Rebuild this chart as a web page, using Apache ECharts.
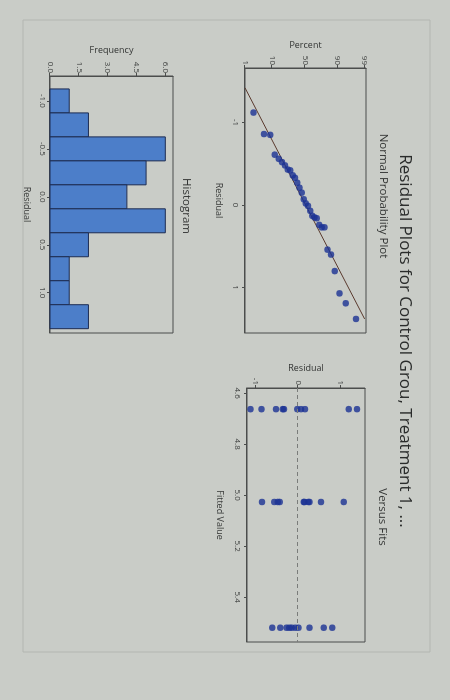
<!DOCTYPE html>
<html><head><meta charset="utf-8">
<script src="https://cdn.jsdelivr.net/npm/echarts@6/dist/echarts.min.js"></script>
<style>
html,body{margin:0;padding:0;width:450px;height:700px;overflow:hidden;background:#c9ccc7;}
#chart{position:absolute;left:0;top:0;width:700px;height:450px;transform-origin:0 0;transform:translate(450px,0) rotate(90deg);}
</style></head><body><div id="chart"></div>
<script>
// ---------- data ----------
const titleText = 'Residual Plots for Control Grou, Treatment 1, ...';
const panelTitles = ['Normal Probability Plot', 'Versus Fits', 'Histogram'];

const fittedValues = [4.663, 5.027, 5.52];
const residualsGroup1 = [-1.12, -0.86, -0.52, -0.36, -0.33, -0.02, 0.07, 0.16, 1.19, 1.38];
const residualsGroup2 = [-0.85, -0.56, -0.48, -0.43, 0.13, 0.15, 0.24, 0.27, 0.54, 1.07];
const residualsGroup3 = [-0.61, -0.42, -0.27, -0.21, -0.15, -0.07, 0.01, 0.27, 0.60, 0.80];

const nppResiduals = [-1.12, -0.86, -0.85, -0.61, -0.56, -0.52, -0.48, -0.43, -0.42, -0.36,
  -0.33, -0.27, -0.21, -0.15, -0.07, -0.02, 0.01, 0.07, 0.13, 0.15,
  0.16, 0.24, 0.27, 0.27, 0.54, 0.60, 0.80, 1.07, 1.19, 1.38];
const nppPercents = [2.3, 5.6, 8.9, 12.2, 15.5, 18.8, 22.0, 25.3, 28.6, 31.9,
  35.2, 38.5, 41.8, 45.1, 48.4, 51.6, 54.9, 58.2, 61.5, 64.8,
  68.0, 71.3, 74.6, 77.9, 81.2, 84.5, 87.8, 91.1, 94.4, 97.7];
const fitLineResiduals = [-1.42, 1.38];
const fitLinePercents = [1, 99];

const histBinCenters = [-1.0, -0.75, -0.5, -0.25, 0.0, 0.25, 0.5, 0.75, 1.0, 1.25];
const histCounts = [1, 2, 6, 5, 4, 6, 2, 1, 1, 2];
const histBinWidth = 0.25;

const percentTicks = [1, 10, 50, 90, 99];
const nppResidualTicks = [-1, 0, 1];
const histResidualTicks = [-1.0, -0.5, 0.0, 0.5, 1.0];
const frequencyTicks = [0, 1.5, 3.0, 4.5, 6.0];
const fittedTicks = [4.6, 4.8, 5.0, 5.2, 5.4];
const fitsResidualTicks = [-1, 0, 1];

// ---------- normal-probability scale transform ----------
function probit(p){
  const a=[-3.969683028665376e+01,2.209460984245205e+02,-2.759285104469687e+02,1.383577518672690e+02,-3.066479806614716e+01,2.506628277459239e+00];
  const b=[-5.447609879822406e+01,1.615858368580409e+02,-1.556989798598866e+02,6.680131188771972e+01,-1.328068155288572e+01];
  const c=[-7.784894002430293e-03,-3.223964580411365e-01,-2.400758277161838e+00,-2.549732539343734e+00,4.374664141464968e+00,2.938163982698783e+00];
  const d=[7.784695709041462e-03,3.224671290700398e-01,2.445134137142996e+00,3.754408661907416e+00];
  const pl=0.02425, ph=1-pl; let q,r;
  if(p<pl){q=Math.sqrt(-2*Math.log(p));return (((((c[0]*q+c[1])*q+c[2])*q+c[3])*q+c[4])*q+c[5])/((((d[0]*q+d[1])*q+d[2])*q+d[3])*q+1);}
  if(p<=ph){q=p-0.5;r=q*q;return (((((a[0]*r+a[1])*r+a[2])*r+a[3])*r+a[4])*r+a[5])*q/(((((b[0]*r+b[1])*r+b[2])*r+b[3])*r+b[4])*r+1);}
  q=Math.sqrt(-2*Math.log(1-p));return -(((((c[0]*q+c[1])*q+c[2])*q+c[3])*q+c[4])*q+c[5])/((((d[0]*q+d[1])*q+d[2])*q+d[3])*q+1);
}
const z = p => probit(p/100);
const percentZ = percentTicks.map(z);

// ---------- styles ----------
const FONT = 'Open Sans';
const axisColor = '#4b4d4c';
const textColor = '#343635';
const pointColor = '#1b3293';
function axisBase(extra){
  return Object.assign({
    type:'value',
    axisLine:{show:true,onZero:false,lineStyle:{color:axisColor,width:1}},
    axisTick:{show:true,length:3,lineStyle:{color:axisColor}},
    splitLine:{show:false},
    nameLocation:'middle',
    nameTextStyle:{fontFamily:FONT,fontSize:9,color:textColor},
  }, extra);
}
function labelStyle(values, fmt, margin){
  return {fontFamily:FONT,fontSize:8,color:'#3d3f3e',margin:margin,customValues:values,formatter:fmt};
}

const chart = echarts.init(document.getElementById('chart'), null, {renderer:'canvas', width:700, height:450});

const option = {
  backgroundColor:'#c9ccc7',
  animation:false,
  grid:[
    {left:68, top:84, width:265, height:121, show:true, borderColor:axisColor, borderWidth:1, containLabel:false},
    {left:76, top:277, width:257, height:123, show:true, borderColor:axisColor, borderWidth:1, containLabel:false},
    {left:388, top:85, width:254, height:118, show:true, borderColor:axisColor, borderWidth:1, containLabel:false}
  ],
  xAxis:[
    axisBase({gridIndex:0, min:-1.66, max:1.55, name:'Residual', nameGap:22,
      axisTick:{show:true,length:3,customValues:nppResidualTicks,lineStyle:{color:axisColor}},
      axisLabel:labelStyle(nppResidualTicks, v=>String(v), 6)}),
    axisBase({gridIndex:1, min:-1.26, max:1.42, name:'Residual', nameGap:19,
      axisTick:{show:true,length:3,customValues:histResidualTicks,lineStyle:{color:axisColor}},
      axisLabel:labelStyle(histResidualTicks, v=>v.toFixed(1), 4)}),
    axisBase({gridIndex:2, min:4.58, max:5.576, name:'Fitted Value', nameGap:23,
      axisTick:{show:true,length:3,customValues:fittedTicks,lineStyle:{color:axisColor}},
      axisLabel:labelStyle(fittedTicks, v=>v.toFixed(1), 6)})
  ],
  yAxis:[
    axisBase({gridIndex:0, min:percentZ[0], max:2.38, name:'Percent', nameGap:18,
      axisTick:{show:true,length:3,customValues:percentZ,lineStyle:{color:axisColor}},
      axisLabel:labelStyle(percentZ, v=>{let best=0;percentZ.forEach((t,i)=>{if(Math.abs(t-v)<Math.abs(percentZ[best]-v))best=i;});return String(percentTicks[best]);}, 3)}),
    axisBase({gridIndex:1, min:0, max:6.4, name:'Frequency', nameGap:21,
      axisTick:{show:true,length:3,customValues:frequencyTicks,lineStyle:{color:axisColor}},
      axisLabel:labelStyle(frequencyTicks, v=>v.toFixed(1), 3)}),
    axisBase({gridIndex:2, min:-1.2, max:1.57, name:'Residual', nameGap:15,
      axisTick:{show:true,length:3,customValues:fitsResidualTicks,lineStyle:{color:axisColor}},
      axisLabel:labelStyle(fitsResidualTicks, v=>String(v), 3)})
  ],
  series:[
    {type:'line', xAxisIndex:0, yAxisIndex:0, symbol:'none', silent:true,
      lineStyle:{color:'#5a3a2e', width:1},
      data:fitLineResiduals.map((r,i)=>[r, z(fitLinePercents[i])]), z:3},
    {type:'scatter', xAxisIndex:0, yAxisIndex:0, symbolSize:6.5,
      itemStyle:{color:pointColor},
      data:nppResiduals.map((r,i)=>[r, z(nppPercents[i])]), z:4},
    {type:'custom', xAxisIndex:1, yAxisIndex:1,
      data:histBinCenters.map((c,i)=>[c-histBinWidth/2, c+histBinWidth/2, histCounts[i]]),
      renderItem:function(params, api){
        const p0 = api.coord([api.value(0), 0]);
        const p1 = api.coord([api.value(1), api.value(2)]);
        return {type:'rect', shape:{x:p0[0], y:p1[1], width:p1[0]-p0[0], height:p0[1]-p1[1]},
          style:{fill:'#4c7ec9', stroke:'#1d2c52', lineWidth:1}};
      }},
    {type:'scatter', xAxisIndex:2, yAxisIndex:2, symbolSize:6.5,
      itemStyle:{color:pointColor},
      data:[].concat(
        residualsGroup1.map(r=>[fittedValues[0], r]),
        residualsGroup2.map(r=>[fittedValues[1], r]),
        residualsGroup3.map(r=>[fittedValues[2], r])
      ),
      markLine:{silent:true, symbol:'none', label:{show:false},
        lineStyle:{type:[4,3], color:'#7a7c7a', width:1},
        data:[{yAxis:0}]}, z:4}
  ],
  graphic:[
    {type:'rect', shape:{x:20, y:20, width:632, height:407}, style:{fill:null, stroke:'#b3b6b1', lineWidth:1}, silent:true, z:-1},
    {type:'text', x:341, y:45, style:{text:titleText, fontFamily:FONT, fontSize:17, fill:'#2a2c2b', textAlign:'center', textVerticalAlign:'middle'}},
    {type:'text', x:196, y:67, style:{text:panelTitles[0], fontFamily:FONT, fontSize:11.5, fill:textColor, textAlign:'center', textVerticalAlign:'middle'}},
    {type:'text', x:517, y:68, style:{text:panelTitles[1], fontFamily:FONT, fontSize:11.5, fill:textColor, textAlign:'center', textVerticalAlign:'middle'}},
    {type:'text', x:206, y:264, style:{text:panelTitles[2], fontFamily:FONT, fontSize:11.5, fill:textColor, textAlign:'center', textVerticalAlign:'middle'}}
  ]
};
chart.setOption(option);
</script></body></html>
